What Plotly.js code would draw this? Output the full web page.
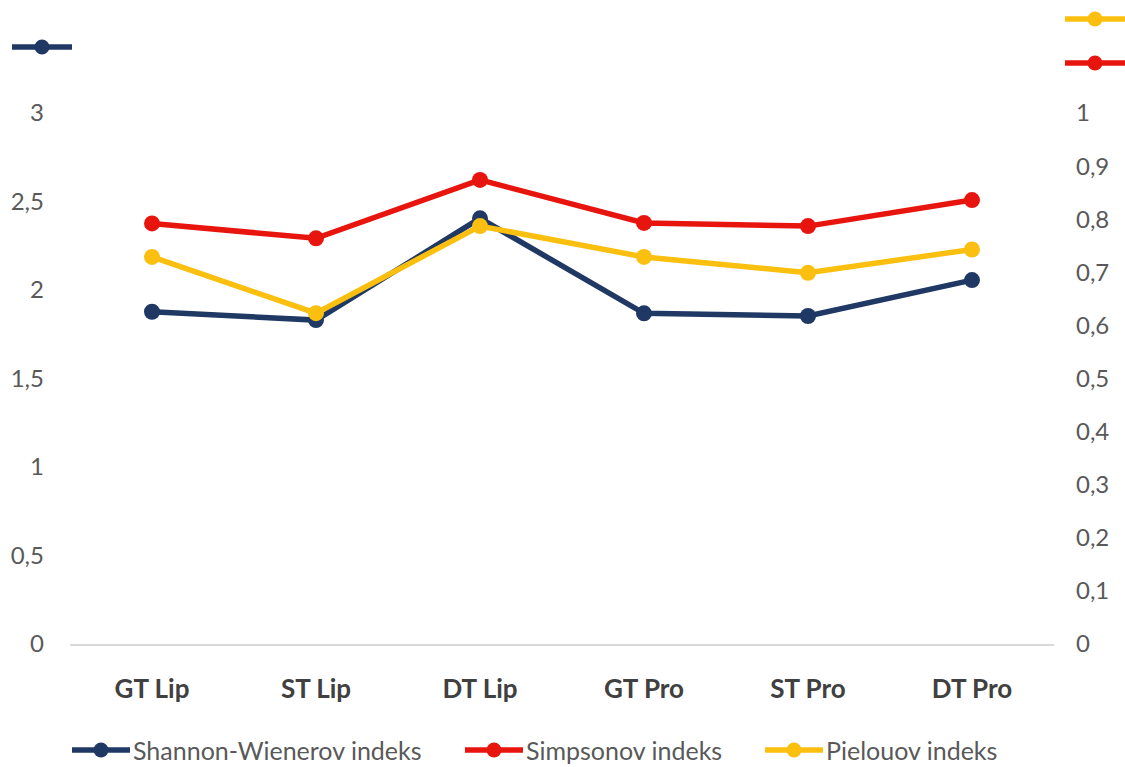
<!DOCTYPE html>
<html>
<head>
<meta charset="utf-8">
<script src="https://cdn.plot.ly/plotly-3.0.1.min.js"></script>
<style>html,body{margin:0;padding:0;background:#fff;}#chart{width:1125px;height:767px;}</style>
</head>
<body>
<div id="chart"></div>
<script>
const categories = ["GT Lip", "ST Lip", "DT Lip", "GT Pro", "ST Pro", "DT Pro"];
const seriesNames = ["Shannon-Wienerov indeks", "Simpsonov indeks", "Pielouov indeks"];
const shannon = [1.877, 1.83, 2.405, 1.868, 1.853, 2.056];
const simpson = [0.792, 0.764, 0.874, 0.793, 0.787, 0.836];
const pielou = [0.729, 0.623, 0.787, 0.729, 0.699, 0.743];
const leftTicks = [0, 0.5, 1, 1.5, 2, 2.5, 3];
const rightTicks = [0, 0.1, 0.2, 0.3, 0.4, 0.5, 0.6, 0.7, 0.8, 0.9, 1];

const NAVY = "#1f3864", RED = "#e8150f", YELLOW = "#fbbf10";
const COLORS = [NAVY, RED, YELLOW];
const FONT = "Lato, 'Open Sans', sans-serif";

function tr(name, y, color, axis) {
  return {
    type: "scatter", mode: "lines+markers", name: name,
    x: categories, y: y, yaxis: axis,
    line: {color: color, width: 5.5},
    marker: {color: color, size: 16},
    showlegend: false
  };
}

const data = [
  tr(seriesNames[0], shannon, NAVY, "y"),
  tr(seriesNames[1], simpson, RED, "y2"),
  tr(seriesNames[2], pielou, YELLOW, "y2")
];

// paper coords: plot x from 70 to 1054 (984 px), y from 644 to 113 (531 px)
function px(xp) { return (xp - 70) / 984; }
function py(yp) { return (644 - yp) / 531; }
function keyShapes(x0, x1, y, color) {
  const cx = (x0 + x1) / 2, r = 7.5;
  return [
    {type: "line", xref: "paper", yref: "paper", x0: px(x0), x1: px(x1), y0: py(y), y1: py(y), line: {color: color, width: 5.5}},
    {type: "circle", xref: "paper", yref: "paper", x0: px(cx - r), x1: px(cx + r), y0: py(y + r), y1: py(y - r), fillcolor: color, line: {color: color, width: 0}}
  ];
}

// legend layout (bottom, manual so spacing matches the original)
const legendKeyX = [72, 465, 765];
const legendY = 750;

let shapes = [].concat(
  keyShapes(12, 72, 47, NAVY),
  keyShapes(1065, 1125, 19, YELLOW),
  keyShapes(1065, 1125, 63, RED)
);
const annotations = [];
seriesNames.forEach((n, i) => {
  shapes = shapes.concat(keyShapes(legendKeyX[i], legendKeyX[i] + 58, legendY, COLORS[i]));
  annotations.push({
    xref: "paper", yref: "paper", x: px(legendKeyX[i] + 59), y: py(legendY),
    xanchor: "left", yanchor: "middle", showarrow: false, text: n,
    font: {family: FONT, size: 25, color: "#595959"}
  });
});

const layout = {
  width: 1125, height: 767,
  margin: {l: 70, r: 71, t: 113, b: 123},
  paper_bgcolor: "#fff", plot_bgcolor: "#fff",
  separators: ", ",
  font: {family: FONT, size: 24, color: "#595959"},
  showlegend: false,
  xaxis: {
    type: "category", range: [-0.5, 5.5], showgrid: false, zeroline: false,
    showline: true, linecolor: "#d9d9d9", linewidth: 2, ticks: "",
    ticklabelstandoff: 21,
    tickfont: {family: FONT, size: 26, color: "#404040", weight: "bold"}
  },
  yaxis: {
    range: [0, 3], tickvals: leftTicks, showgrid: false, zeroline: false, showline: false,
    ticks: "", ticklabelstandoff: 25,
    tickfont: {family: FONT, size: 24, color: "#595959"}
  },
  yaxis2: {
    range: [0, 1], tickvals: rightTicks, overlaying: "y", side: "right",
    showgrid: false, zeroline: false, showline: false, ticks: "", ticklabelstandoff: 21,
    tickfont: {family: FONT, size: 24, color: "#595959"}
  },
  shapes: shapes,
  annotations: annotations
};

Plotly.newPlot("chart", data, layout, {displayModeBar: false, staticPlot: true});
</script>
</body>
</html>
